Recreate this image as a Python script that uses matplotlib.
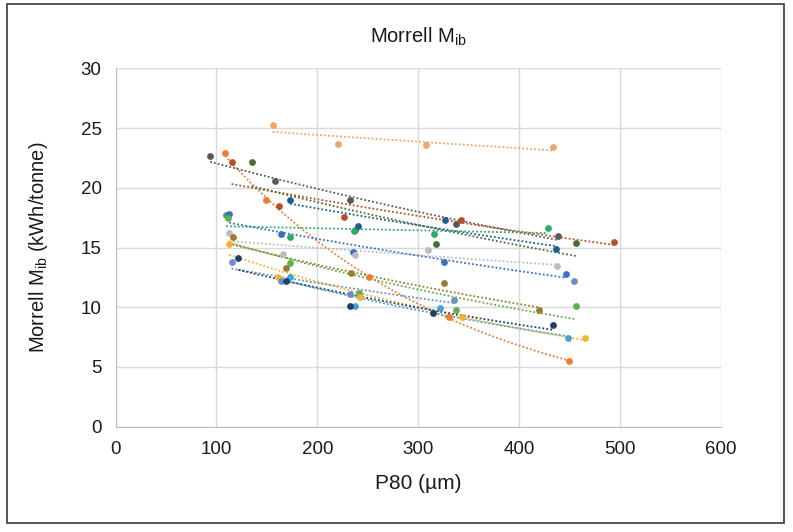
import numpy as np
import matplotlib
matplotlib.use("Agg")
import matplotlib.pyplot as plt
from matplotlib.patches import Rectangle

plt.rcParams['font.family'] = ['Liberation Sans', 'DejaVu Sans']
plt.rcParams['mathtext.fontset'] = 'custom'
plt.rcParams['mathtext.rm'] = 'Liberation Sans'

# P80 (um) and Morrell Mib (kWh/t) per sample
orange_x = [108.7, 149, 251.6, 330.4, 449.7]
orange_y = [22.9, 18.95, 12.5, 9.2, 5.5]
lightorange_x = [155.7, 220, 307.6, 433.9]
lightorange_y = [25.3, 23.7, 23.6, 23.4]
darkgray_x = [93.7, 158, 232.8, 337, 438.6]
darkgray_y = [22.7, 20.6, 19.0, 16.95, 16.0]
brown_x = [115, 162, 226, 342, 493.5]
brown_y = [22.2, 18.5, 17.6, 17.3, 15.5]
darkgreen_x = [135, 237, 317.9, 456.6]
darkgreen_y = [22.2, 16.5, 15.3, 15.4]
darkblue_x = [173, 240, 326.8, 436.6]
darkblue_y = [19.0, 16.85, 17.3, 14.9]
teal_x = [109.5, 173, 236.8, 316, 428.7]
teal_y = [17.7, 15.85, 16.4, 16.1, 16.65]
blue_x = [112.7, 163.6, 235.4, 325.4, 446.7]
blue_y = [17.8, 16.1, 14.6, 13.8, 12.8]
lightgray_x = [112.7, 166, 237, 310, 437.6]
lightgray_y = [16.2, 14.5, 14.4, 14.8, 13.5]
olive_x = [116, 169, 233.8, 325.8, 419.8]
olive_y = [15.85, 13.3, 12.9, 12.0, 9.76]
green_x = [111, 173, 241.7, 337.7, 456.6]
green_y = [17.5, 13.75, 11.2, 9.76, 10.1]
yellow_x = [112.7, 160.6, 242, 342.9, 464.9]
yellow_y = [15.3, 12.5, 10.85, 9.18, 7.39]
steel_x = [115, 163.6, 232.1, 335.7]
steel_y = [13.8, 12.2, 11.15, 10.65]
steelextra_x = [454.7]
steelextra_y = [12.2]
lightblue_x = [173, 237.4, 321.8, 448.8]
lightblue_y = [12.5, 10.07, 9.96, 7.47]
navy_x = [121.6, 168.5, 232.8, 314.9, 433.9]
navy_y = [14.1, 12.2, 10.07, 9.54, 8.5]

series = [
    (orange_x, orange_y, '#ED7D31'),
    (lightorange_x, lightorange_y, '#F1A46C'),
    (darkgray_x, darkgray_y, '#5A5A5A'),
    (brown_x, brown_y, '#B5522A'),
    (darkgreen_x, darkgreen_y, '#4B6E35'),
    (darkblue_x, darkblue_y, '#1F5E91'),
    (teal_x, teal_y, '#2FAA6A'),
    (blue_x, blue_y, '#3A70C0'),
    (lightgray_x, lightgray_y, '#BDBDBD'),
    (olive_x, olive_y, '#9E7A2E'),
    (green_x, green_y, '#5DB14E'),
    (yellow_x, yellow_y, '#F5B52A'),
    (steel_x, steel_y, '#6E8EC2'),
    (lightblue_x, lightblue_y, '#45A1D6'),
    (navy_x, navy_y, '#203F6B'),
]

fig = plt.figure(figsize=(7.93, 5.32), dpi=100)
ax = fig.add_axes([115.5 / 793, 1 - 426.7 / 532, (721 - 115.5) / 793, (426.7 - 68.5) / 532])

# outer chart border
fig.patches.append(Rectangle((7 / 793, 1 - 522.5 / 532), 777 / 793, 518.5 / 532,
                             transform=fig.transFigure, fill=False,
                             edgecolor='#3a3a3a', linewidth=1.2))

for xs, ys, col in series:
    xs = np.asarray(xs, dtype=float)
    ys = np.asarray(ys, dtype=float)
    ax.scatter(xs, ys, s=24, color=col, zorder=3, linewidths=0)
    # exponential trendline
    b, a = np.polyfit(xs, np.log(ys), 1)
    xt = np.linspace(xs.min(), xs.max(), 100)
    ax.plot(xt, np.exp(a + b * xt), linestyle=(0, (1, 1.2)), color=col,
            linewidth=1.3, zorder=2)

ax.scatter(steelextra_x, steelextra_y, s=24, color='#6E8EC2', zorder=3, linewidths=0)

ax.set_xlim(0, 600)
ax.set_ylim(0, 30)
ax.set_xticks(range(0, 601, 100))
ax.set_yticks(range(0, 31, 5))
ax.grid(True, color='#D9D9D9', linewidth=1)
ax.set_axisbelow(True)
for side in ['top', 'right']:
    ax.spines[side].set_visible(False)
for side in ['left', 'bottom']:
    ax.spines[side].set_color('#BFBFBF')
ax.tick_params(length=0, labelsize=13.5, colors='#1a1a1a', pad=10)

ax.set_xlabel('P80 (µm)', fontsize=15, color='#1a1a1a', labelpad=12)
ax.set_ylabel('Morrell M$_\\mathregular{ib}$ (kWh/tonne)', fontsize=14.5,
              color='#1a1a1a', labelpad=22)
fig.text(418 / 793, 1 - 37 / 532, 'Morrell M$_\\mathregular{ib}$', fontsize=14.5,
         ha='center', va='center', color='#1a1a1a')

fig.savefig('out.png', dpi=100)
